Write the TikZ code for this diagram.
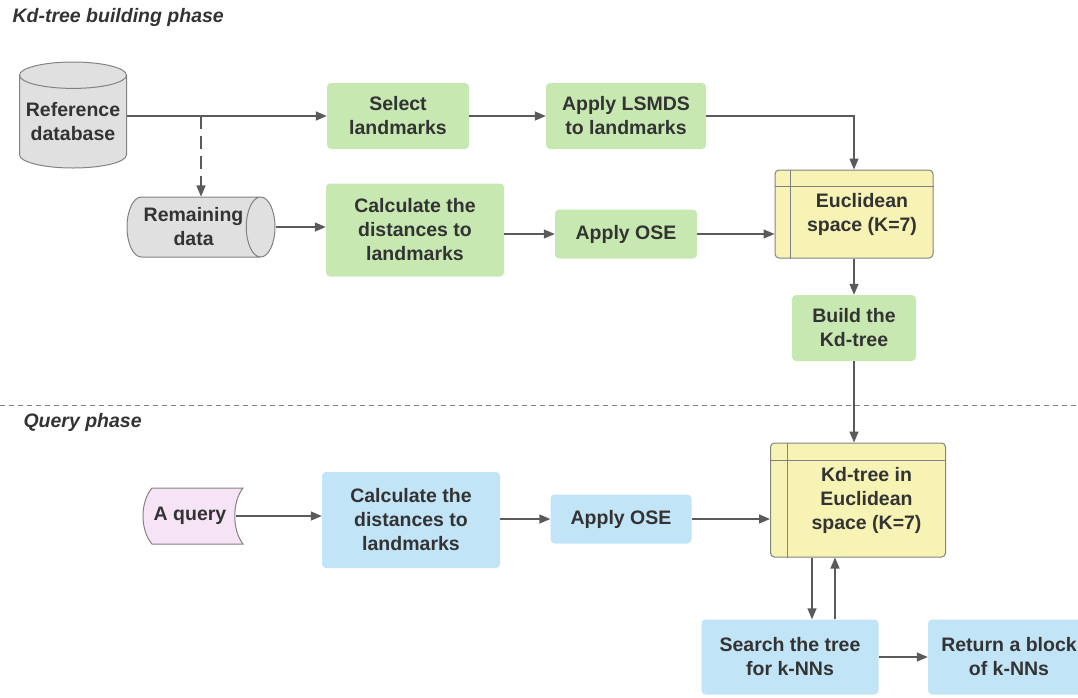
\documentclass[tikz,border=0pt]{standalone}
\usepackage{fontspec}
\setmainfont{Liberation Sans}
\usetikzlibrary{arrows.meta,positioning,calc,shapes.geometric}
\definecolor{txtgray}{RGB}{51,51,51}
\definecolor{linegray}{RGB}{90,90,90}
\definecolor{edgegray}{RGB}{130,130,130}
\definecolor{boxgreen}{RGB}{199,232,176}
\definecolor{boxblue}{RGB}{194,228,247}
\definecolor{boxyellow}{RGB}{246,243,180}
\definecolor{boxpink}{RGB}{246,228,246}
\definecolor{cylgray}{RGB}{224,224,224}

\begin{document}
\begin{tikzpicture}[x=1pt,y=-1pt,>={Triangle[length=11pt,width=9pt]},
  every node/.style={font=\fontsize{19.5}{24}\selectfont\bfseries, text=txtgray, align=center},
  greenbox/.style={fill=boxgreen, rounded corners=4pt, inner sep=0pt},
  bluebox/.style={fill=boxblue, rounded corners=4pt, inner sep=0pt},
  storebox/.style={fill=boxyellow, draw=edgegray, line width=1pt, rounded corners=4pt, inner sep=0pt},
  dbcyl/.style={cylinder, draw=edgegray, fill=cylgray, line width=1pt, inner sep=0pt},
  phase/.style={anchor=west, font=\fontsize{19.5}{23}\selectfont\bfseries\itshape},
  link/.style={->, line width=1.4pt, draw=linegray},
]
\useasboundingbox (0,0) rectangle (1078,697);

% phase titles and separator
\node[phase] (buildphase) at (9,17) {Kd-tree building phase};
\node[phase] (queryphase) at (20,422) {Query phase};
\draw[edgegray, line width=1pt, dash pattern=on 5pt off 4pt] (0,405) -- (1078,405);

% building phase
\node[dbcyl, shape border rotate=90, aspect=0.28, minimum width=107, minimum height=106, anchor=shape center] (refdb) at (73,115) {Reference\\database};
\node[dbcyl, aspect=0.75, minimum width=60, minimum height=148, anchor=shape center] (remain) at (201,227) {Remaining\\data};
\node[greenbox, minimum width=142, minimum height=66] (sel) at (398,116) {Select\\landmarks};
\node[greenbox, minimum width=160, minimum height=66] (lsmds) at (626,116) {Apply LSMDS\\to landmarks};
\node[greenbox, minimum width=178, minimum height=93] (dist1) at (415,230) {Calculate the\\distances to\\landmarks};
\node[greenbox, minimum width=142, minimum height=49] (ose1) at (626,234) {Apply OSE};
\node[storebox, minimum width=158, minimum height=88] (eucl) at (854,214) {\hspace*{16pt}Euclidean\\\hspace*{16pt}space (K=7)};
\node[greenbox, minimum width=124, minimum height=66] (build) at (854,328) {Build the\\Kd-tree};
\draw[edgegray, line width=1pt] ($(eucl.north west)+(16,0)$) -- ($(eucl.south west)+(16,0)$);
\draw[edgegray, line width=1pt] ($(eucl.north west)+(0,17)$) -- ($(eucl.north east)+(0,17)$);

% query phase
\node[minimum width=98, minimum height=56, inner sep=0pt] (query) at (190,516) {A query};
\begin{scope}[shift={(query.center)}]
  \draw[edgegray, fill=boxpink, line width=1pt] (-38,-28) -- (53,-28)
    .. controls (42,-14) and (42,14) .. (53,28) -- (-38,28)
    .. controls (-50,14) and (-50,-14) .. (-38,-28) -- cycle;
\end{scope}
\node at (query.center) {A query};
\coordinate (qout) at ($(query.center)+(46,0)$);
\node[bluebox, minimum width=178, minimum height=96] (dist2) at (411,520) {Calculate the\\distances to\\landmarks};
\node[bluebox, minimum width=141, minimum height=49] (ose2) at (621,519) {Apply OSE};
\node[storebox, minimum width=175, minimum height=114] (kd) at (858,500) {\hspace*{17pt}Kd-tree in\\\hspace*{17pt}Euclidean\\\hspace*{17pt}space (K=7)};
\draw[edgegray, line width=1pt] ($(kd.north west)+(17,0)$) -- ($(kd.south west)+(17,0)$);
\draw[edgegray, line width=1pt] ($(kd.north west)+(0,18)$) -- ($(kd.north east)+(0,18)$);
\node[bluebox, minimum width=177, minimum height=75] (search) at (790,657) {Search the tree\\for k-NNs};
\node[bluebox, minimum width=162, minimum height=75] (ret) at (1009,657) {Return a block\\of k-NNs};

% connectors, building phase
\draw[link] (sel.west -| refdb.east) -- (sel.west);
\draw[link, dash pattern=on 13pt off 7pt] (remain.shape center |- sel.west) -- (remain.shape center |- remain.north);
\draw[link] (sel) -- (lsmds);
\draw[link] (lsmds.east) -| (eucl.north);
\draw[link] (remain.east) -- (remain.east -| dist1.west);
\draw[link] (ose1.west -| dist1.east) -- (ose1.west);
\draw[link] (ose1.east) -- (ose1.east -| eucl.west);
\draw[link] (eucl.south) -- (build.north);
\draw[link] (build.south) -- (build.south |- kd.north);

% connectors, query phase
\draw[link] (qout) -- (qout -| dist2.west);
\draw[link] (ose2.west -| dist2.east) -- (ose2.west);
\draw[link] (ose2.east) -- (ose2.east -| kd.west);
\coordinate (dn) at ($(search.north)+(22,0)$);
\coordinate (up) at ($(search.north)+(45,0)$);
\draw[link] (dn |- kd.south) -- (dn);
\draw[link] (up) -- (up |- kd.south);
\draw[link] (search.east) -- (search.east -| ret.west);
\end{tikzpicture}
\end{document}
